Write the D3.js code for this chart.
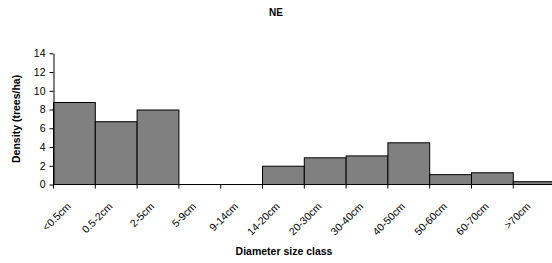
<!DOCTYPE html>
<html>
<head>
<meta charset="utf-8">
<script src="https://cdn.jsdelivr.net/npm/d3@7"></script>
<style>
  body { margin: 0; background: #fff; }
  text { font-family: "Liberation Sans", Arial, sans-serif; }
</style>
</head>
<body>
<div id="chart"></div>
<script>
var categories = ["<0.5cm", "0.5-2cm", "2-5cm", "5-9cm", "9-14cm", "14-20cm", "20-30cm", "30-40cm", "40-50cm", "50-60cm", "60-70cm", ">70cm"];
var density = [8.75, 6.7, 7.95, 0, 0, 1.95, 2.85, 3.05, 4.45, 1.05, 1.25, 0.3];
var yTicks = [0, 2, 4, 6, 8, 10, 12, 14];

var width = 552, height = 263;
var x0 = 53.5, bandW = 41.8, yBottom = 184.5, yTop = 53.3;

var svg = d3.select("#chart")
  .append("svg")
  .attr("width", width)
  .attr("height", height);

var x = d3.scaleBand()
  .domain(categories)
  .range([x0, x0 + categories.length * bandW])
  .paddingInner(0)
  .paddingOuter(0);

var y = d3.scaleLinear()
  .domain([0, 14])
  .range([yBottom, yTop]);

// Bars
svg.selectAll("rect.bar")
  .data(categories)
  .enter()
  .append("rect")
  .attr("class", "bar")
  .attr("x", function(d) { return x(d); })
  .attr("y", function(d, i) { return y(density[i]); })
  .attr("width", x.bandwidth())
  .attr("height", function(d, i) { return y(0) - y(density[i]); })
  .style("fill", "#808080")
  .style("stroke", "#000")
  .style("stroke-width", "1px");

// Y axis
var yAxis = svg.append("g")
  .attr("transform", "translate(" + x0 + ",0)")
  .call(d3.axisLeft(y).tickValues(yTicks).tickSize(4).tickSizeOuter(0));
yAxis.select(".domain").attr("stroke", "#000");
yAxis.selectAll("text").attr("font-size", 10.5).attr("fill", "#000").attr("dx", "-1");

// X axis line and ticks at band edges
svg.append("line")
  .attr("x1", x0).attr("x2", width)
  .attr("y1", yBottom).attr("y2", yBottom)
  .style("stroke", "#000").style("stroke-width", "1px");

var edges = categories.map(function(d) { return x(d); });
svg.selectAll("line.xtick")
  .data(edges)
  .enter()
  .append("line")
  .attr("class", "xtick")
  .attr("x1", function(d) { return d; })
  .attr("x2", function(d) { return d; })
  .attr("y1", yBottom)
  .attr("y2", yBottom + 4)
  .style("stroke", "#000");

// X tick labels
svg.selectAll("text.xlab")
  .data(categories)
  .enter()
  .append("text")
  .attr("class", "xlab")
  .attr("font-size", 10.5)
  .attr("text-anchor", "end")
  .attr("transform", function(d) {
    return "translate(" + (x(d) + x.bandwidth() / 2 - 3) + "," + (yBottom + 22.5) + ") rotate(-45)";
  })
  .text(function(d) { return d; });

// Titles
svg.append("text")
  .attr("x", 276).attr("y", 16)
  .attr("text-anchor", "middle")
  .attr("font-size", 10).attr("font-weight", "bold")
  .text("NE");

svg.append("text")
  .attr("x", 284).attr("y", 255)
  .attr("text-anchor", "middle")
  .attr("font-size", 10.5).attr("font-weight", "bold")
  .text("Diameter size class");

svg.append("text")
  .attr("transform", "translate(20," + ((yTop + yBottom) / 2) + ") rotate(-90)")
  .attr("text-anchor", "middle")
  .attr("font-size", 10.5).attr("font-weight", "bold")
  .text("Density (trees/ha)");
</script>
</body>
</html>
